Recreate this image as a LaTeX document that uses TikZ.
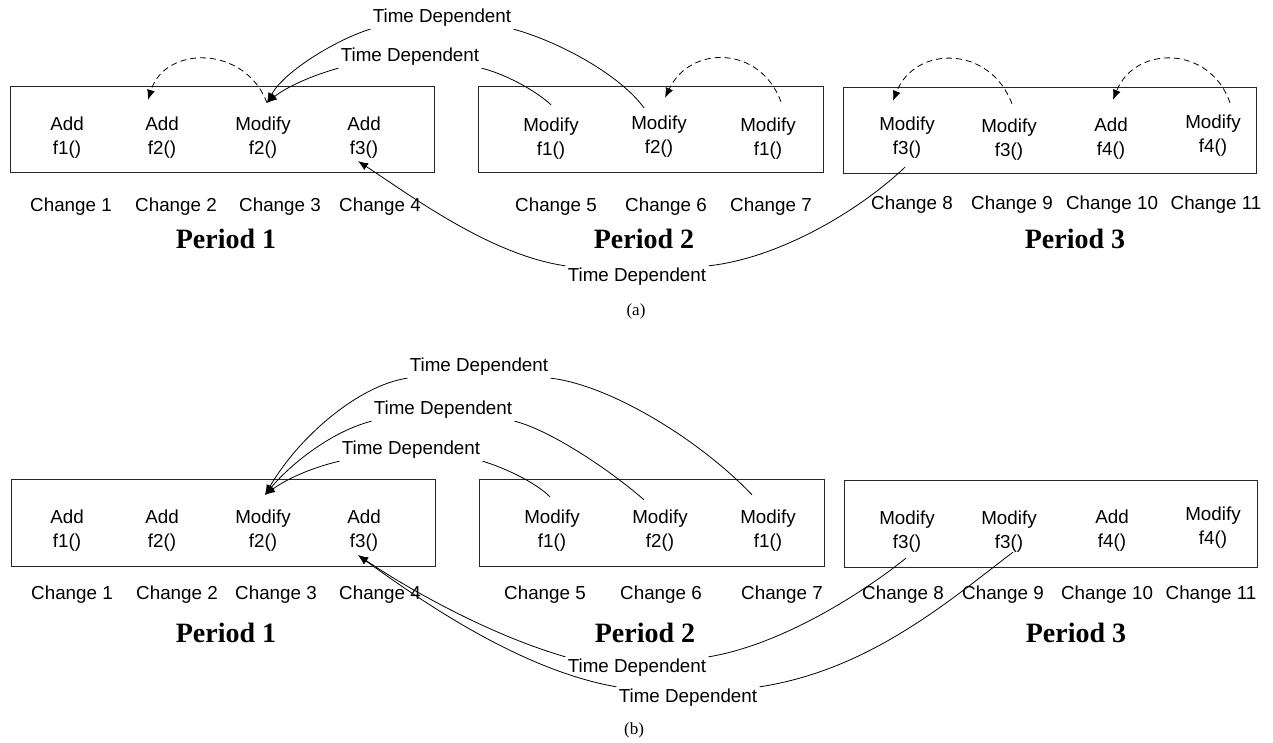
\documentclass[tikz,border=0pt]{standalone}
\usepackage{fontspec}
\setmainfont{Liberation Serif}
\setsansfont{Liberation Sans}
\usetikzlibrary{arrows.meta}
\tikzset{>={Latex[length=5pt,width=4pt]}}
\tikzset{
  chg/.style={font=\sffamily\fontsize{9.4}{11}\selectfont, inner sep=1pt},
  item/.style={align=center, inner sep=1pt, font=\sffamily\fontsize{9.4}{12}\selectfont},
  per/.style={font=\bfseries\fontsize{14}{16}\selectfont, inner sep=1pt},
  subcap/.style={font=\fontsize{8.5}{10}\selectfont, inner sep=1pt},
  box/.style={line width=0.5pt, draw=black!85},
  link/.style={line width=0.4pt},
  back/.style={line width=0.4pt, dash pattern=on 3pt off 2pt},
}

\begin{document}
\begin{tikzpicture}[x=0.5pt, y=-0.5pt]
    \useasboundingbox (0,0) rectangle (1273,743);
    % ---- (a) ----
    \draw[box](10, 87)rectangle(434, 173);
    \draw[box](478, 87)rectangle(823, 173);
    \draw[box](843, 88)rectangle(1256, 174);
    \node[item](a1)at(67, 138){Add\\f1()};
    \node[item](a2)at(162, 138){Add\\f2()};
    \node[item](a3)at(263, 138){Modify\\f2()};
    \node[item](a4)at(364, 138){Add\\f3()};
    \node[item](a5)at(551, 139){Modify\\f1()};
    \node[item](a6)at(659, 137){Modify\\f2()};
    \node[item](a7)at(768, 139){Modify\\f1()};
    \node[item](a8)at(907, 138){Modify\\f3()};
    \node[item](a9)at(1009, 140){Modify\\f3()};
    \node[item](a10)at(1111, 139){Add\\f4()};
    \node[item](a11)at(1213, 136){Modify\\f4()};
    \node[chg](ca1)at(71, 207){Change 1};
    \node[chg](ca2)at(176, 207){Change 2};
    \node[chg](ca3)at(280, 207){Change 3};
    \node[chg](ca4)at(380, 207){Change 4};
    \node[chg](ca5)at(556, 207){Change 5};
    \node[chg](ca6)at(666, 207){Change 6};
    \node[chg](ca7)at(771, 207){Change 7};
    \node[chg](ca8)at(912, 205){Change 8};
    \node[chg](ca9)at(1012, 205){Change 9};
    \node[chg](ca10)at(1112, 205){Change 10};
    \node[chg](ca11)at(1216, 205){Change 11};
    \node[per](pa1)at(226, 239){Period 1};
    \node[per](pa2)at(644, 239){Period 2};
    \node[per](pa3)at(1075, 239){Period 3};
    \node[chg](tdA1)at(442, 18){Time Dependent};
    \node[chg](tdA2)at(410, 57){Time Dependent};
    \node[chg](tdA3)at(637, 277){Time Dependent};
    \node[subcap](capa)at(636, 311){(a)};
    \draw[link, ->](tdA1.south west)..controls(340, 38)and(285, 70)..([xshift=2pt, yshift=6pt]a3.north);
    \draw[link](tdA1.south east)..controls(560, 42)and(620, 75)..([xshift=-7.5pt, yshift=3pt]a6.north);
    \draw[link, ->](tdA2.south west)..controls(310, 76)and(285, 88)..([xshift=2pt, yshift=6pt]a3.north);
    \draw[link](tdA2.south east)..controls(505, 74)and(535, 90)..([yshift=5.5pt]a5.north);
    \draw[link](tdA3.north east)..controls(780, 258)and(860, 210)..([xshift=-1pt, yshift=-3pt]a8.south);
    \draw[link, ->](tdA3.north west)..controls(490, 255)and(410, 195)..([xshift=-3pt]a4.south);
    \draw[back, ->]([xshift=2pt, yshift=6pt]a3.north)..controls(245, 45)and(165, 45)..([xshift=-7pt, yshift=7.5pt]a2.north);
    \draw[back, ->]([xshift=6.5pt, yshift=7pt]a7.north)..controls(760, 45)and(690, 45)..([xshift=3pt, yshift=8pt]a6.north);
    \draw[back, ->]([xshift=1.5pt, yshift=6.5pt]a9.north)..controls(990, 45)and(915, 45)..([xshift=-7pt, yshift=7pt]a8.north);
    \draw[back, ->]([xshift=8.5pt, yshift=5pt]a11.north)..controls(1210, 45)and(1135, 45)..([xshift=1pt, yshift=8pt]a10.north);
    % ---- (b) ----
    \draw[box](11, 479)rectangle(435, 566);
    \draw[box](479, 479)rectangle(824, 566);
    \draw[box](844, 480)rectangle(1257, 567);
    \node[item](b1)at(67, 531){Add\\f1()};
    \node[item](b2)at(162, 531){Add\\f2()};
    \node[item](b3)at(263, 531){Modify\\f2()};
    \node[item](b4)at(364, 531){Add\\f3()};
    \node[item](b5)at(552, 531){Modify\\f1()};
    \node[item](b6)at(660, 531){Modify\\f2()};
    \node[item](b7)at(768, 531){Modify\\f1()};
    \node[item](b8)at(907, 532){Modify\\f3()};
    \node[item](b9)at(1009, 532){Modify\\f3()};
    \node[item](b10)at(1112, 531){Add\\f4()};
    \node[item](b11)at(1213, 528){Modify\\f4()};
    \node[chg](cb1)at(72, 595){Change 1};
    \node[chg](cb2)at(177, 595){Change 2};
    \node[chg](cb3)at(276, 595){Change 3};
    \node[chg](cb4)at(380, 595){Change 4};
    \node[chg](cb5)at(545, 595){Change 5};
    \node[chg](cb6)at(661, 595){Change 6};
    \node[chg](cb7)at(782, 595){Change 7};
    \node[chg](cb8)at(903, 595){Change 8};
    \node[chg](cb9)at(1003, 595){Change 9};
    \node[chg](cb10)at(1107, 595){Change 10};
    \node[chg](cb11)at(1211, 595){Change 11};
    \node[per](pb1)at(226, 633){Period 1};
    \node[per](pb2)at(645, 633){Period 2};
    \node[per](pb3)at(1076, 633){Period 3};
    \node[chg](tdB1)at(479, 367){Time Dependent};
    \node[chg](tdB2)at(443, 410){Time Dependent};
    \node[chg](tdB3)at(411, 450){Time Dependent};
    \node[chg](tdB4)at(637, 668){Time Dependent};
    \node[chg](tdB5)at(688, 698){Time Dependent};
    \node[subcap](capb)at(634, 730){(b)};
    \draw[link, ->](tdB1.south west)..controls(360, 385)and(300, 435)..([xshift=1pt, yshift=6.5pt]b3.north);
    \draw[link](tdB1.south east)..controls(610, 385)and(700, 440)..([xshift=-8pt, yshift=6.5pt]b7.north);
    \draw[link, ->](tdB2.south west)..controls(330, 432)and(290, 465)..([xshift=1pt, yshift=6.5pt]b3.north);
    \draw[link](tdB2.south east)..controls(550, 430)and(610, 470)..([xshift=-8pt, yshift=4pt]b6.north);
    \draw[link, ->](tdB3.south west)..controls(310, 468)and(285, 480)..([xshift=1pt, yshift=6.5pt]b3.north);
    \draw[link](tdB3.south east)..controls(505, 468)and(535, 482)..([xshift=-1pt, yshift=5.5pt]b5.north);
    \draw[link](tdB4.north east)..controls(780, 645)and(860, 595)..([xshift=-0.5pt, yshift=-1.5pt]b8.south);
    \draw[link, ->](tdB4.north west)..controls(490, 635)and(410, 590)..([xshift=-3pt, yshift=-0.5pt]b4.south);
    \draw[link](tdB5.north east)..controls(870, 670)and(950, 600)..([xshift=2pt, yshift=1.5pt]b9.south);
    \draw[link, ->](tdB5.north west)..controls(520, 670)and(420, 600)..([xshift=-3pt, yshift=-0.5pt]b4.south);
\end{tikzpicture}
\end{document}
